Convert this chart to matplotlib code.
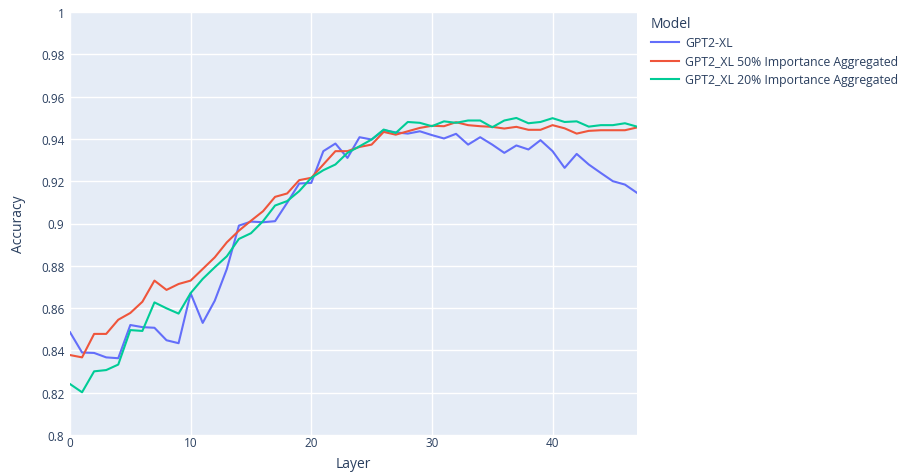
import matplotlib.pyplot as plt
from matplotlib.ticker import FuncFormatter, MultipleLocator

# データ
layers = list(range(48))
gpt2_xl = [0.8486, 0.8390, 0.8388, 0.8367, 0.8363, 0.8520, 0.8510, 0.8507, 0.8448, 0.8434,
           0.8670, 0.8530, 0.8635, 0.8785, 0.8990, 0.9009, 0.9006, 0.9011, 0.9098, 0.9189,
           0.9192, 0.9342, 0.9378, 0.9310, 0.9408, 0.9397, 0.9441, 0.9431, 0.9425, 0.9436,
           0.9418, 0.9402, 0.9424, 0.9373, 0.9408, 0.9373, 0.9334, 0.9369, 0.9350, 0.9394,
           0.9342, 0.9263, 0.9329, 0.9279, 0.9239, 0.9200, 0.9184, 0.9145]
imp50 = [0.8378, 0.8367, 0.8478, 0.8478, 0.8545, 0.8577, 0.8630, 0.8730, 0.8686, 0.8714,
         0.8730, 0.8785, 0.8840, 0.8911, 0.8966, 0.9013, 0.9058, 0.9126, 0.9142, 0.9205,
         0.9216, 0.9279, 0.9342, 0.9342, 0.9362, 0.9373, 0.9433, 0.9420, 0.9436, 0.9452,
         0.9462, 0.9460, 0.9479, 0.9465, 0.9460, 0.9457, 0.9449, 0.9457, 0.9443, 0.9443,
         0.9465, 0.9450, 0.9425, 0.9438, 0.9441, 0.9441, 0.9441, 0.9454]
imp20 = [0.8241, 0.8202, 0.8301, 0.8307, 0.8333, 0.8496, 0.8492, 0.8627, 0.8599, 0.8574,
         0.8671, 0.8738, 0.8793, 0.8845, 0.8927, 0.8954, 0.9011, 0.9085, 0.9106, 0.9153,
         0.9216, 0.9252, 0.9279, 0.9334, 0.9365, 0.9397, 0.9444, 0.9428, 0.9480, 0.9476,
         0.9460, 0.9483, 0.9476, 0.9487, 0.9487, 0.9455, 0.9487, 0.9499, 0.9474, 0.9480,
         0.9498, 0.9480, 0.9483, 0.9458, 0.9465, 0.9465, 0.9474, 0.9458]
names = ['GPT2-XL', 'GPT2_XL 50% Importance Aggregated', 'GPT2_XL 20% Importance Aggregated']
colors = ['#636efa', '#EF553B', '#00cc96']

text_color = '#2a3f5f'
plt.rcParams['font.family'] = ['Open Sans', 'DejaVu Sans']

fig = plt.figure(figsize=(9.03, 4.77), dpi=100)
ax = fig.add_axes([70 / 903, 41 / 477, 567 / 903, 423 / 477])
ax.set_facecolor('#E5ECF6')

for ys, name, c in zip([gpt2_xl, imp50, imp20], names, colors):
    ax.plot(layers, ys, color=c, lw=1.5, label=name, zorder=3)

ax.set_xlim(0, 47)
ax.set_ylim(0.8, 1.0)
ax.xaxis.set_major_locator(MultipleLocator(10))
ax.yaxis.set_major_locator(MultipleLocator(0.02))
ax.yaxis.set_major_formatter(FuncFormatter(lambda v, p: '%g' % round(v, 4)))
ax.grid(True, color='white', lw=1, zorder=1)
ax.set_axisbelow(True)
for s in ax.spines.values():
    s.set_visible(False)
ax.tick_params(length=0, colors=text_color, labelsize=8.5, pad=4)
ax.tick_params(axis='x', pad=1)

ax.set_xlabel('Layer', color=text_color, fontsize=10, labelpad=5)
ax.set_ylabel('Accuracy', color=text_color, fontsize=10, labelpad=11)

leg = ax.legend(title='Model', loc='upper left', bbox_to_anchor=(646 / 903, 1 - 12 / 477),
                bbox_transform=fig.transFigure, frameon=False, fontsize=8.8,
                title_fontsize=10, handlelength=2.3, handletextpad=0.5,
                labelspacing=0.45, alignment='left', borderaxespad=0)
for t in leg.get_texts():
    t.set_color(text_color)
leg.get_title().set_color(text_color)

fig.savefig('out.png', dpi=100)
